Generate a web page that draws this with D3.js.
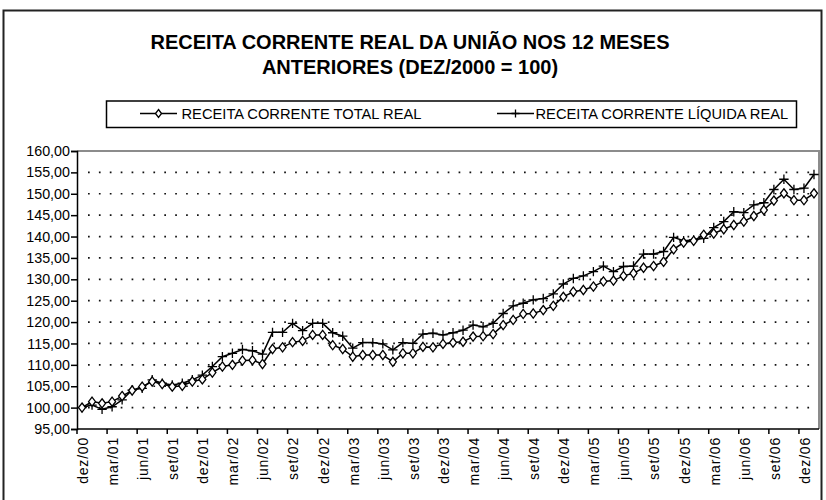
<!DOCTYPE html>
<html>
<head>
<meta charset="utf-8">
<script src="https://cdn.jsdelivr.net/npm/d3@7"></script>
<style>
    body { margin:0; background:white; }
    text { font-family:"Liberation Sans", Arial, sans-serif; fill:black; }
    .title { font-weight:bold; font-size:20px; }
    .legendText { font-size:14.7px; }
    .axis text { font-size:14px; }
    .xaxis text { letter-spacing:0.8px; }
    .axis path, .axis line { stroke:black; stroke-width:1.5; }
</style>
</head>
<body>
<svg id="graph"></svg>
<script>
var categories = [
    "dez/00","jan/01","fev/01","mar/01","abr/01","mai/01","jun/01","jul/01","ago/01","set/01","out/01","nov/01",
    "dez/01","jan/02","fev/02","mar/02","abr/02","mai/02","jun/02","jul/02","ago/02","set/02","out/02","nov/02",
    "dez/02","jan/03","fev/03","mar/03","abr/03","mai/03","jun/03","jul/03","ago/03","set/03","out/03","nov/03",
    "dez/03","jan/04","fev/04","mar/04","abr/04","mai/04","jun/04","jul/04","ago/04","set/04","out/04","nov/04",
    "dez/04","jan/05","fev/05","mar/05","abr/05","mai/05","jun/05","jul/05","ago/05","set/05","out/05","nov/05",
    "dez/05","jan/06","fev/06","mar/06","abr/06","mai/06","jun/06","jul/06","ago/06","set/06","out/06","nov/06",
    "dez/06","jan/07"];

var totalReal = [
    100.0,101.4,101.0,101.4,102.7,104.0,104.9,106.1,105.5,104.9,105.1,106.1,
    106.6,108.2,109.6,110.0,111.0,111.1,110.2,113.7,114.1,115.3,115.6,117.0,
    117.0,114.6,113.7,111.9,112.3,112.3,112.3,110.7,112.7,112.7,114.2,114.1,
    114.9,115.2,115.4,116.6,116.7,117.2,119.3,120.5,121.9,122.0,122.8,123.8,
    125.9,127.1,127.5,128.3,129.5,129.7,130.8,131.4,132.7,133.1,134.1,137.0,
    138.6,139.0,140.4,140.7,141.7,142.7,143.5,144.8,146.2,148.4,150.1,148.5,
    148.5,150.1];

var liquidaReal = [
    100.0,100.6,99.6,100.2,101.8,104.1,104.5,106.5,105.7,105.3,105.7,106.5,
    107.6,109.6,111.9,112.7,113.6,113.3,112.5,117.6,117.6,119.7,118.0,119.7,
    119.7,117.5,116.7,113.9,115.2,115.2,114.9,113.5,115.2,115.0,117.2,117.4,
    117.0,117.5,118.1,119.3,118.9,119.7,122.0,123.8,124.4,125.2,125.5,126.6,
    128.9,130.2,130.8,131.8,133.1,131.8,133.0,133.1,135.9,135.9,136.5,139.8,
    139.0,139.2,139.6,142.1,143.5,145.8,145.6,147.4,147.9,151.0,153.4,151.0,
    151.3,154.5];

var tickLabels = ["dez/00","mar/01","jun/01","set/01","dez/01","mar/02","jun/02","set/02",
    "dez/02","mar/03","jun/03","set/03","dez/03","mar/04","jun/04","set/04",
    "dez/04","mar/05","jun/05","set/05","dez/05","mar/06","jun/06","set/06","dez/06"];

var yTicks = [95,100,105,110,115,120,125,130,135,140,145,150,155,160];
var gridValues = [100,105,110,115,120,125,130,135,140,145,150,155];

var titleLines = ["RECEITA CORRENTE REAL DA UNIÃO NOS 12 MESES", "ANTERIORES (DEZ/2000 = 100)"];
var seriesNames = ["RECEITA CORRENTE TOTAL REAL", "RECEITA CORRENTE LÍQUIDA REAL"];

var initGraph = function(target)
{
    var screen = {width:826, height:500};
    var plot = {left:77, top:151, right:819, bottom:429};

    var svg = d3.select(target)
        .attr("width", screen.width)
        .attr("height", screen.height);

    // outer frame (runs off the bottom of the picture)
    svg.append("rect")
        .attr("x", 3.5)
        .attr("y", 10.5)
        .attr("width", 818)
        .attr("height", 520)
        .attr("fill", "white")
        .attr("stroke", "#222")
        .attr("stroke-width", 2);

    var xScale = d3.scaleBand()
        .domain(categories)
        .range([plot.left, plot.right])
        .padding(0);

    var yScale = d3.scaleLinear()
        .domain([95, 160])
        .range([plot.bottom, plot.top]);

    createLabels(svg);
    createLegend(svg);
    createGrid(svg, plot, yScale);
    createAxes(svg, plot, xScale, yScale);
    drawLines(svg, xScale, yScale);
}

var createLabels = function(svg)
{
    svg.append("g")
        .selectAll("text")
        .data(titleLines)
        .enter()
        .append("text")
        .classed("title", true)
        .attr("text-anchor", "middle")
        .attr("x", 410)
        .attr("y", function(d, i) { return 48.5 + i*25; })
        .text(function(d) { return d; });
}

var diamondPath = function(w, h)
{
    return "M0," + (-h) + "L" + w + ",0L0," + h + "L" + (-w) + ",0Z";
}

var plusPath = function(s)
{
    return "M" + (-s) + ",0H" + s + "M0," + (-s) + "V" + s;
}

var createLegend = function(svg)
{
    var legend = svg.append("g").classed("legend", true);

    legend.append("rect")
        .attr("x", 106.5)
        .attr("y", 101)
        .attr("width", 690)
        .attr("height", 26.5)
        .attr("fill", "white")
        .attr("stroke", "black")
        .attr("stroke-width", 1.5);

    var entries = legend.selectAll("g")
        .data(seriesNames)
        .enter()
        .append("g")
        .attr("transform", function(d, i)
        {
            return "translate(" + (i == 0 ? 140 : 497) + ",113.5)";
        });

    entries.append("line")
        .attr("x1", 0)
        .attr("x2", 37)
        .attr("stroke", "black")
        .attr("stroke-width", 1.5);

    entries.append("path")
        .attr("transform", "translate(18.5,0)")
        .attr("d", function(d, i) { return i == 0 ? diamondPath(3, 4) : plusPath(4); })
        .attr("fill", "white")
        .attr("stroke", "black")
        .attr("stroke-width", 1.3);

    entries.append("text")
        .classed("legendText", true)
        .attr("x", function(d, i) { return i == 0 ? 41.5 : 38.5; })
        .attr("y", 5)
        .text(function(d) { return d; });
}

var createGrid = function(svg, plot, yScale)
{
    var grid = svg.append("g").classed("grid", true);

    grid.selectAll("line")
        .data(gridValues)
        .enter()
        .append("line")
        .attr("x1", plot.left + 11)
        .attr("x2", plot.right)
        .attr("y1", function(d) { return yScale(d); })
        .attr("y2", function(d) { return yScale(d); })
        .attr("stroke", "#111")
        .attr("stroke-width", 1.7)
        .attr("stroke-dasharray", "1.7,9.2");

    // grey top and right edges of plot area
    grid.append("path")
        .attr("d", "M" + plot.left + "," + plot.top + "H" + plot.right + "V" + plot.bottom)
        .attr("fill", "none")
        .attr("stroke", "#8c8c8c")
        .attr("stroke-width", 2);
}

var createAxes = function(svg, plot, xScale, yScale)
{
    var yAxis = d3.axisLeft(yScale)
        .tickValues(yTicks)
        .tickSize(6)
        .tickPadding(1)
        .tickFormat(function(d) { return d3.format(".2f")(d).replace(".", ","); });

    svg.append("g")
        .classed("axis", true)
        .attr("transform", "translate(" + plot.left + ",0)")
        .call(yAxis)
        .selectAll("text")
        .style("font-size", "14.3px");

    var xAxis = d3.axisBottom(xScale)
        .tickValues(tickLabels)
        .tickSize(0);

    var xg = svg.append("g")
        .classed("axis", true)
        .classed("xaxis", true)
        .attr("transform", "translate(0," + plot.bottom + ")")
        .call(xAxis);

    xg.selectAll(".tick text")
        .attr("x", -8)
        .attr("y", 1)
        .attr("dy", "0.35em")
        .attr("transform", "rotate(-90)")
        .style("text-anchor", "end");

    // tick marks sit on the boundaries between categories
    xg.selectAll(".boundary")
        .data(tickLabels)
        .enter()
        .append("line")
        .classed("boundary", true)
        .attr("x1", function(d) { return xScale(d); })
        .attr("x2", function(d) { return xScale(d); })
        .attr("y1", 0)
        .attr("y2", 5);

    xg.select(".domain")
        .attr("d", "M" + plot.left + ",0H" + plot.right);
}

var drawLines = function(svg, xScale, yScale)
{
    var half = xScale.bandwidth()/2;

    var lineGenerator = d3.line()
        .x(function(v, i) { return xScale(categories[i]) + half; })
        .y(function(v) { return yScale(v); });

    var series = [
        {name:seriesNames[1], values:liquidaReal, marker:"plus"},
        {name:seriesNames[0], values:totalReal, marker:"diamond"}
    ];

    var groups = svg.append("g")
        .selectAll("g")
        .data(series)
        .enter()
        .append("g");

    groups.append("path")
        .attr("d", function(s) { return lineGenerator(s.values); })
        .attr("fill", "none")
        .attr("stroke", "black")
        .attr("stroke-width", 1.5);

    groups.each(function(s)
    {
        d3.select(this)
            .selectAll(".marker")
            .data(s.values)
            .enter()
            .append("path")
            .classed("marker", true)
            .attr("transform", function(v, i)
            {
                return "translate(" + (xScale(categories[i]) + half) + "," + yScale(v) + ")";
            })
            .attr("d", s.marker == "diamond" ? diamondPath(3.5, 4.6) : plusPath(4.7))
            .attr("fill", "white")
            .attr("stroke", "black")
            .attr("stroke-width", 1.3);
    });
}

initGraph("#graph");
</script>
</body>
</html>
